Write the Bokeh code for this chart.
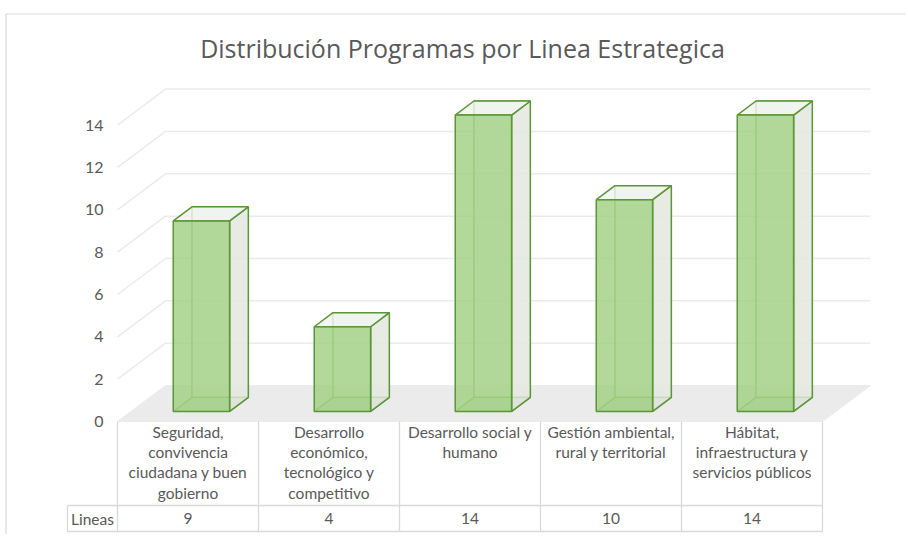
from bokeh.plotting import figure
from bokeh.models import Range1d
from bokeh.embed import file_html
from bokeh.resources import INLINE
from bokeh.core.properties import value

# ---------------- data ----------------
title_text = "Distribución Programas por Linea Estrategica"
categories = [
    "Seguridad,\nconvivencia\nciudadana y buen\ngobierno",
    "Desarrollo\neconómico,\ntecnológico y\ncompetitivo",
    "Desarrollo social y\nhumano",
    "Gestión ambiental,\nrural y territorial",
    "Hábitat,\ninfraestructura y\nservicios públicos",
]
series_name = "Lineas"
lineas = [9, 4, 14, 10, 14]
y_ticks = [0, 2, 4, 6, 8, 10, 12, 14]

# ---------------- layout (pixels) ----------------
W, H = 906, 534
OX, OY = 117, 421                    # px of (category 0 left, value 0) at the front
PU, PV = 141.0, 21.17                # px per category, px per value unit
DEPTH_X, DEPTH_Y = 48.0, 36.0        # px of full floor depth

def xu(px):
    return (px - OX) / PU

def yv(py):
    return (OY - py) / PV

DX = DEPTH_X / PU
DY = DEPTH_Y / PV

def proj(u, v, d):
    return u + DX * d, v + DY * d

TFONT = value("Open Sans")
FONT = value("Lato")
TXT = "#595959"
n = len(lineas)

p = figure(width=W, height=H, output_backend="svg", toolbar_location=None,
           x_range=Range1d(xu(0), xu(W)), y_range=Range1d(yv(H), yv(0)),
           x_axis_location=None, y_axis_location=None, min_border=0)
p.grid.visible = False
p.outline_line_color = None
p.background_fill_color = "white"
p.border_fill_color = "white"

# chart border
p.line([xu(5.5), xu(5.5), xu(W)], [yv(H), yv(13.5), yv(13.5)], line_color="#D9D9D9", line_width=1.2)

# title
p.text(x=[xu(462)], y=[yv(47)], text=[title_text], text_font=TFONT,
       text_font_size="25px", text_color=TXT, text_align="center", text_baseline="middle")

# floor
fl = [proj(0, 0, 0), proj(n, 0, 0), proj(n, 0, 1), proj(0, 0, 1)]
p.patch([a for a, b in fl], [b for a, b in fl], fill_color="#EBEBEB", line_color="#EBEBEB")

# gridlines (side wall + back wall)
gxs, gys = [], []
for t in y_ticks[1:]:
    pts = [proj(0, t, 0), proj(0, t, 1), proj(n, t, 1)]
    gxs.append([a for a, b in pts])
    gys.append([b for a, b in pts])
p.multi_line(gxs, gys, line_color="#EBEBEB", line_width=1.5)

# y tick labels
p.text(x=[xu(103)] * len(y_ticks), y=y_ticks, text=[str(t) for t in y_ticks],
       text_font=FONT, text_font_size="16px", text_color=TXT,
       text_align="right", text_baseline="middle")

# bars as 3D boxes
BW = 0.4
D0, D1 = 0.28, 0.67

def face(corners):
    return [a for a, b in corners], [b for a, b in corners]

faces = {k: ([], []) for k in ["back", "bottom", "right", "top", "front"]}
for i, val in enumerate(lineas):
    u0, u1 = i + 0.5 - BW / 2, i + 0.5 + BW / 2
    defs = {
        "back": [proj(u0, 0, D1), proj(u1, 0, D1), proj(u1, val, D1), proj(u0, val, D1)],
        "bottom": [proj(u0, 0, D0), proj(u1, 0, D0), proj(u1, 0, D1), proj(u0, 0, D1)],
        "right": [proj(u1, 0, D0), proj(u1, 0, D1), proj(u1, val, D1), proj(u1, val, D0)],
        "top": [proj(u0, val, D0), proj(u1, val, D0), proj(u1, val, D1), proj(u0, val, D1)],
        "front": [proj(u0, 0, D0), proj(u1, 0, D0), proj(u1, val, D0), proj(u0, val, D0)],
    }
    for k, c in defs.items():
        xs, ys = face(c)
        faces[k][0].append(xs)
        faces[k][1].append(ys)

EDGE = "#5B9639"
HID = "#7DB35A"
p.patches(faces["back"][0], faces["back"][1], fill_color="#F4F5F2", fill_alpha=0.6,
          line_color=HID, line_width=1.3)
p.patches(faces["bottom"][0], faces["bottom"][1], fill_color="#C9CEC4", fill_alpha=0.6,
          line_color=HID, line_width=1.3)
p.patches(faces["right"][0], faces["right"][1], fill_color="#E2E6DE", fill_alpha=0.75,
          line_color=EDGE, line_width=1.5)
p.patches(faces["top"][0], faces["top"][1], fill_color="#EEF1EB", fill_alpha=0.75,
          line_color=EDGE, line_width=1.5)
p.patches(faces["front"][0], faces["front"][1], fill_color="#9FCF80", fill_alpha=0.8,
          line_color=EDGE, line_width=1.5)

# data table
T_TOP, T_MID, T_BOT, T_LEFT = 421, 505, 531, 67
lxs, lys = [], []
for i in range(n + 1):
    lxs.append([i, i]); lys.append([yv(T_TOP), yv(T_BOT)])
lxs.append([xu(T_LEFT), xu(T_LEFT)]); lys.append([yv(T_MID), yv(T_BOT)])
lxs.append([xu(T_LEFT), n]); lys.append([yv(T_MID), yv(T_MID)])
lxs.append([xu(T_LEFT), n]); lys.append([yv(T_BOT), yv(T_BOT)])
p.multi_line(lxs, lys, line_color="#D9D9D9", line_width=1.3)

centers = [i + 0.5 for i in range(n)]
p.text(x=centers, y=[yv(422)] * n, text=categories, text_font=FONT,
       text_font_size="15.5px", text_color=TXT, text_align="center", text_baseline="top",
       text_line_height=1.13)
p.text(x=centers, y=[yv(518)] * n, text=[str(v) for v in lineas], text_font=FONT,
       text_font_size="15.5px", text_color=TXT, text_align="center", text_baseline="middle")
p.text(x=[xu(92)], y=[yv(518)], text=[series_name], text_font=FONT,
       text_font_size="15.5px", text_color=TXT, text_align="center", text_baseline="middle")

open("out.html", "w").write(file_html(p, INLINE))
